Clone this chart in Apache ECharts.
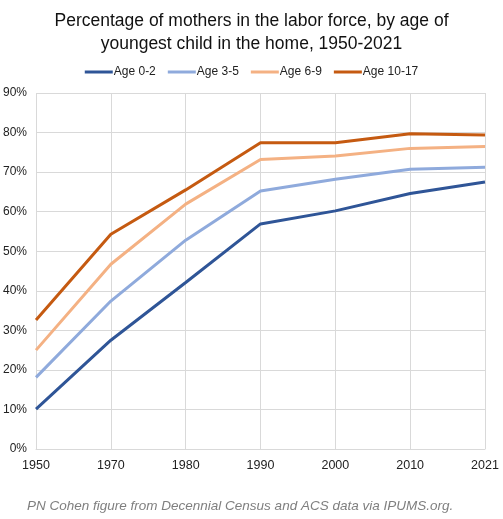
<!DOCTYPE html>
<html>
<head>
<meta charset="utf-8">
<script src="https://cdn.jsdelivr.net/npm/echarts@6/dist/echarts.min.js"></script>
<style>
  html, body { margin: 0; padding: 0; background: #fff; }
  #main { width: 503px; height: 519px; }
</style>
</head>
<body>
<div id="main"></div>
<script>
var years = ['1950', '1970', '1980', '1990', '2000', '2010', '2021'];
var age0to2 = [10.1, 27.5, 42.1, 56.9, 60.2, 64.6, 67.5];
var age3to5 = [18.1, 37.4, 52.8, 65.2, 68.2, 70.7, 71.2];
var age6to9 = [25.0, 46.7, 61.9, 73.2, 74.1, 76.0, 76.5];
var age10to17 = [32.6, 54.3, 65.5, 77.4, 77.4, 79.7, 79.4];

var font = 'Liberation Sans, Arial, sans-serif';

function line(name, data, color) {
    return {
        name: name,
        type: 'line',
        data: data,
        symbol: 'none',
        lineStyle: { width: 3, color: color },
        itemStyle: { color: color },
        animation: false
    };
}

var chart = echarts.init(document.getElementById('main'));
chart.setOption({
    backgroundColor: '#fff',
    title: [{
        text: 'Percentage of mothers in the labor force, by age of\nyoungest child in the home, 1950-2021',
        left: 'center',
        top: 5,
        textStyle: { fontFamily: font, fontSize: 17.5, fontWeight: 'normal', color: '#111', lineHeight: 23 }
    }, {
        text: 'PN Cohen figure from Decennial Census and ACS data via IPUMS.org.',
        left: 22,
        top: 494,
        textStyle: { fontFamily: font, fontSize: 13.5, fontStyle: 'italic', fontWeight: 'normal', color: '#7f7f7f' }
    }],
    legend: {
        top: 61,
        left: 'center',
        itemWidth: 28,
        itemHeight: 3,
        itemGap: 12,
        icon: 'rect',
        textStyle: { fontFamily: font, fontSize: 12, color: '#222', padding: [0, 0, 0, -4] },
        data: ['Age 0-2', 'Age 3-5', 'Age 6-9', 'Age 10-17']
    },
    grid: { left: 33, right: 18, top: 93, bottom: 70, containLabel: false },
    xAxis: {
        type: 'category',
        data: years,
        boundaryGap: false,
        axisLine: { lineStyle: { color: '#d9d9d9' } },
        axisTick: { show: false },
        axisLabel: { fontFamily: font, fontSize: 12.5, color: '#222', margin: 10 },
        splitLine: { show: true, lineStyle: { color: '#d9d9d9' } }
    },
    yAxis: {
        type: 'value',
        min: 0,
        max: 90,
        interval: 10,
        axisLine: { show: false },
        axisTick: { show: false },
        axisLabel: { fontFamily: font, fontSize: 12, color: '#222', margin: 9, formatter: '{value}%' },
        splitLine: { lineStyle: { color: '#d9d9d9' } }
    },
    series: [
        line('Age 0-2', age0to2, '#2f5597'),
        line('Age 3-5', age3to5, '#8faadc'),
        line('Age 6-9', age6to9, '#f4b183'),
        line('Age 10-17', age10to17, '#c55a11')
    ]
});
</script>
</body>
</html>
